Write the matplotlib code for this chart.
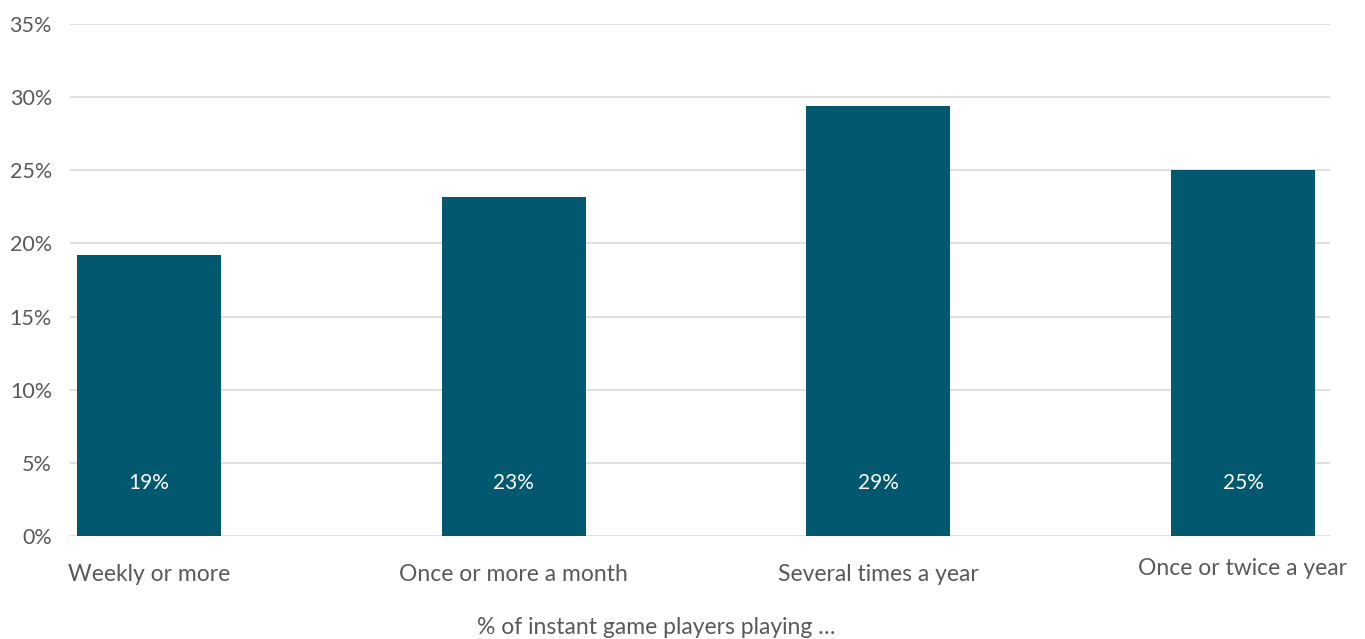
import matplotlib.pyplot as plt
from matplotlib.ticker import FuncFormatter
from matplotlib.transforms import ScaledTranslation

categories = ["Weekly or more", "Once or more a month", "Several times a year", "Once or twice a year"]
shares = [19.2, 23.2, 29.4, 25.0]
y_ticks = [0, 5, 10, 15, 20, 25, 30, 35]

BAR = "#02586F"
GREY = "#595959"
GRID = "#D9D9D9"

plt.rcParams["font.family"] = ["Lato", "DejaVu Sans"]

fig = plt.figure(figsize=(13.65, 6.39), dpi=100)
ax = fig.add_axes([70 / 1365, 1 - 536 / 639, 1260 / 1365, 512 / 639])

x = list(range(len(categories)))
ax.bar(x, shares, width=0.395, color=BAR, zorder=2)
for xi, v in zip(x, shares):
    ax.text(xi, 3.6, f"{v:.0f}%", ha="center", va="center",
            color="white", fontsize=15)

ax.set_xlim(-0.2166, 3.2386)
ax.set_ylim(0, 35)
ax.set_yticks(y_ticks)
ax.yaxis.set_major_formatter(FuncFormatter(lambda v, _: f"{v:.0f}%"))
ax.grid(axis="y", color=GRID, linewidth=1.2, zorder=0)
for s in ax.spines.values():
    s.set_visible(False)
ax.tick_params(axis="y", length=0, pad=13, labelsize=15.5, labelcolor=GREY)
ax.tick_params(axis="x", length=0, pad=20, labelsize=16.5, labelcolor=GREY)
ax.set_xticks(x)
ax.set_xticklabels(categories)

# last category sits a little higher
last = ax.get_xticklabels()[-1]
last.set_transform(last.get_transform() + ScaledTranslation(0, 6 / 100, fig.dpi_scale_trans))

fig.text(656 / 1365, 1 - 627 / 639, "% of instant game players playing \u2026",
         ha="center", va="center", fontsize=16.5, color=GREY)

fig.savefig("out.png", dpi=100)
